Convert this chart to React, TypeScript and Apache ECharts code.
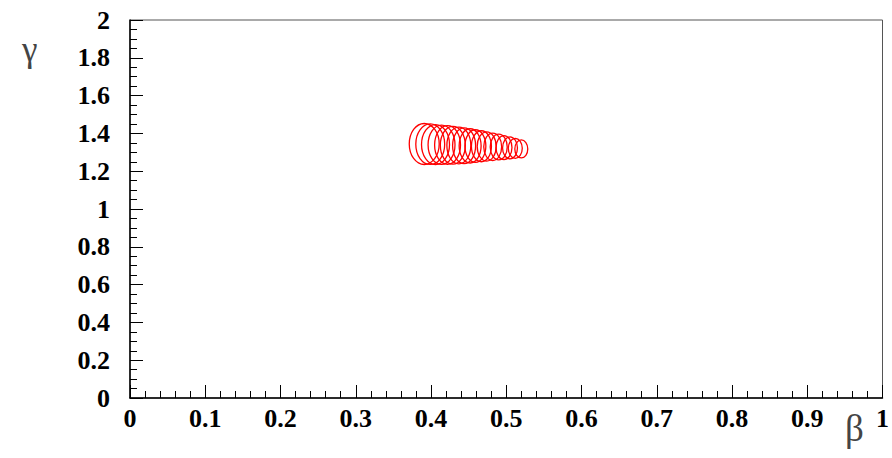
import React, { useEffect, useRef } from "react";
import * as echarts from "echarts";

// Ellipse centres (beta, gamma) and half-axes (beta, gamma)
const centerBeta = [0.391, 0.399, 0.406, 0.414, 0.422, 0.429, 0.437, 0.444, 0.452, 0.459, 0.467, 0.474, 0.482, 0.49, 0.497, 0.505, 0.512, 0.52];
const centerGamma = [1.344, 1.343, 1.341, 1.34, 1.339, 1.337, 1.336, 1.335, 1.334, 1.333, 1.332, 1.331, 1.329, 1.328, 1.325, 1.323, 1.321, 1.318];
const radiusBeta = [0.0199, 0.0192, 0.0186, 0.0179, 0.0172, 0.0166, 0.0159, 0.0153, 0.0146, 0.0139, 0.0133, 0.0126, 0.0119, 0.0113, 0.0106, 0.0099, 0.0093, 0.0086];
const radiusGamma = [0.1085, 0.1074, 0.1058, 0.1042, 0.1021, 0.1, 0.0974, 0.0942, 0.0905, 0.0862, 0.082, 0.0772, 0.0725, 0.0683, 0.0635, 0.0582, 0.0529, 0.0476];

const xTitle = "β";
const yTitle = "γ";

export default function App() {
  const ref = useRef<HTMLDivElement>(null);
  useEffect(() => {
    if (!ref.current) return;
    const chart = echarts.init(ref.current, undefined, { renderer: "svg" });
    const data = centerBeta.map((b, i) => [b, centerGamma[i], radiusBeta[i], radiusGamma[i]]);
    const labelStyle = {
      color: "#000",
      fontFamily: "Liberation Serif",
      fontWeight: "bold" as const,
      fontSize: 26,
    };
    chart.setOption({
      animation: false,
      grid: {
        left: 130,
        right: 8,
        top: 20,
        bottom: 60,
        show: true,
        borderColor: "#555",
        borderWidth: 1,
      },
      xAxis: {
        type: "value",
        min: 0,
        max: 1,
        interval: 0.1,
        axisLine: { show: true, lineStyle: { color: "#000", width: 1.5 } },
        axisTick: { show: true, inside: true, length: 13, lineStyle: { color: "#000", width: 1 } },
        minorTick: { show: true, splitNumber: 5, length: 7, lineStyle: { color: "#000", width: 1 } },
        splitLine: { show: false },
        axisLabel: { ...labelStyle, margin: 7 },
      },
      yAxis: {
        type: "value",
        min: 0,
        max: 2,
        interval: 0.2,
        axisLine: { show: true, lineStyle: { color: "#000", width: 1.5 } },
        axisTick: { show: true, inside: true, length: 13, lineStyle: { color: "#000", width: 1 } },
        minorTick: { show: true, splitNumber: 4, length: 7, lineStyle: { color: "#000", width: 1 } },
        splitLine: { show: false },
        axisLabel: { ...labelStyle, margin: 20 },
      },
      graphic: [
        {
          type: "text",
          left: 22,
          top: 32,
          style: { text: yTitle, fill: "#444", font: "35px 'Liberation Serif'" },
        },
        {
          type: "text",
          left: 845,
          top: 410,
          style: { text: xTitle, fill: "#444", font: "37px 'Liberation Serif'" },
        },
      ],
      series: [
        {
          type: "custom",
          data,
          encode: { x: 0, y: 1 },
          renderItem: (params: any, api: any) => {
            const c = api.coord([api.value(0), api.value(1)]);
            const s = api.size([api.value(2), api.value(3)]);
            return {
              type: "ellipse",
              shape: { cx: c[0], cy: c[1], rx: s[0], ry: s[1] },
              style: { fill: "none", stroke: "#ff0000", lineWidth: 1.3 },
            };
          },
        },
      ],
    });
    return () => chart.dispose();
  }, []);
  return (
    <div
      ref={ref}
      style={{ position: "fixed", left: 0, top: 0, width: 892, height: 458, background: "#fff" }}
    />
  );
}
